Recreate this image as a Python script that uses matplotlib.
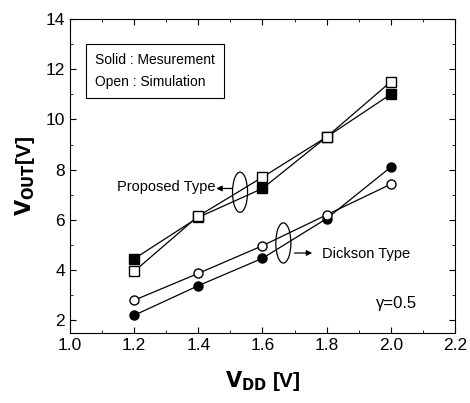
import matplotlib
matplotlib.use("Agg")
import matplotlib.pyplot as plt
from matplotlib.patches import Ellipse
from matplotlib.ticker import MultipleLocator

plt.rcParams['font.family'] = ['Liberation Sans', 'DejaVu Sans']

# supply voltage
vdd = [1.2, 1.4, 1.6, 1.8, 2.0]
# proposed type
prop_meas = [4.45, 6.1, 7.25, 9.3, 11.0]
prop_sim = [3.95, 6.15, 7.7, 9.3, 11.5]
# dickson type
dick_meas = [2.2, 3.38, 4.47, 6.05, 8.1]
dick_sim = [2.8, 3.87, 4.97, 6.2, 7.42]

fig = plt.figure(figsize=(4.7, 4.03), dpi=100)
ax = fig.add_axes([0.149, 0.174, 0.819, 0.779])

ms = 6.5
lw = 0.9
ax.plot(vdd, prop_meas, color='black', lw=lw, marker='s', ms=ms, mfc='black', mec='black')
ax.plot(vdd, prop_sim, color='black', lw=lw, marker='s', ms=ms, mfc='white', mec='black')
ax.plot(vdd, dick_meas, color='black', lw=lw, marker='o', ms=ms, mfc='black', mec='black')
ax.plot(vdd, dick_sim, color='black', lw=lw, marker='o', ms=ms, mfc='white', mec='black')

ax.set_xlim(1.0, 2.2)
ax.set_ylim(1.5, 14)
ax.xaxis.set_minor_locator(MultipleLocator(0.1))
ax.yaxis.set_minor_locator(MultipleLocator(1))
ax.set_xticks([1.0, 1.2, 1.4, 1.6, 1.8, 2.0, 2.2])
ax.set_xticklabels(['1.0', '1.2', '1.4', '1.6', '1.8', '2.0', '2.2'])
ax.set_yticks([2, 4, 6, 8, 10, 12, 14])
ax.tick_params(which='both', direction='in', top=True, right=True, labelsize=12.5)
ax.tick_params(which='major', length=4)
ax.tick_params(which='minor', length=2.5)

ax.set_xlabel(r'$\mathbf{V_{DD}}$ [V]', fontsize=15, fontweight='bold', labelpad=12)
ax.set_ylabel(r'$\mathbf{V_{OUT}}$[V]', fontsize=15, fontweight='bold', labelpad=6)

# legend box
ax.text(0.065, 0.834, 'Solid : Mesurement\nOpen : Simulation', transform=ax.transAxes,
        fontsize=10, va='center', ha='left', linespacing=1.7,
        bbox=dict(boxstyle='square,pad=0.65', fc='white', ec='black', lw=0.8))

# annotations
arrow = dict(arrowstyle='-|>', color='black', lw=0.9, mutation_scale=8,
             shrinkA=0, shrinkB=0)
ax.add_patch(Ellipse((1.53, 7.1), 0.047, 1.6, fill=False, ec='black', lw=0.9))
ax.annotate('', xy=(1.456, 7.25), xytext=(1.506, 7.25), arrowprops=arrow)
ax.text(1.455, 7.3, 'Proposed Type', fontsize=10.5, ha='right', va='center')

ax.add_patch(Ellipse((1.665, 5.08), 0.047, 1.6, fill=False, ec='black', lw=0.9))
ax.annotate('', xy=(1.755, 4.68), xytext=(1.70, 4.68), arrowprops=arrow)
ax.text(1.785, 4.66, 'Dickson Type', fontsize=10.5, ha='left', va='center')

ax.text(1.955, 2.68, 'γ=0.5', fontsize=12, ha='left', va='center')

fig.savefig('out.png', dpi=100)
